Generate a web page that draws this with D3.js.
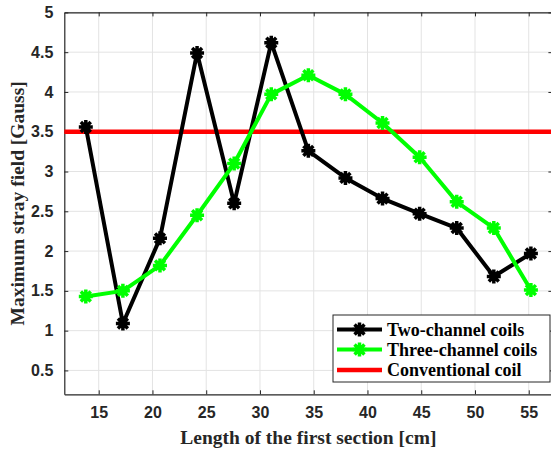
<!DOCTYPE html>
<html>
<head>
<meta charset="utf-8">
<script src="https://cdn.jsdelivr.net/npm/d3@7"></script>
<style>
  body { margin: 0; background: #fff; }
</style>
</head>
<body>
<script>
// data
var lengths = [13.8, 17.25, 20.7, 24.15, 27.6, 31.05, 34.5, 37.95, 41.4, 44.85, 48.3, 51.75, 55.2];
var twoChannel = [3.56, 1.09, 2.16, 4.49, 2.60, 4.62, 3.26, 2.92, 2.66, 2.47, 2.29, 1.68, 1.97];
var threeChannel = [1.43, 1.50, 1.82, 2.45, 3.10, 3.97, 4.21, 3.97, 3.61, 3.18, 2.62, 2.29, 1.51];
var conventional = 3.5;
var xTicks = [15, 20, 25, 30, 35, 40, 45, 50, 55];
var yTicks = [0.5, 1, 1.5, 2, 2.5, 3, 3.5, 4, 4.5, 5];
var legendNames = ["Two-channel coils", "Three-channel coils", "Conventional coil"];

var W = 551, H = 453;
var pLeft = 64.3, pRight = 552.4, pTop = 12.4, pBottom = 394.3;

var svg = d3.select("body").append("svg").attr("width", W).attr("height", H);

var x = d3.scaleLinear().domain([11.8, 57.2]).range([pLeft, pRight]);
var y = d3.scaleLinear().domain([0.2, 5]).range([pBottom, pTop]);

// grid
var grid = svg.append("g").attr("stroke", "#e3e3e3").attr("stroke-width", 1);
grid.selectAll("line.gx").data(xTicks).enter().append("line")
      .attr("x1", function (d) { return x(d); }).attr("x2", function (d) { return x(d); })
      .attr("y1", pTop).attr("y2", pBottom);
grid.selectAll("line.gy").data(yTicks).enter().append("line")
      .attr("x1", pLeft).attr("x2", pRight)
      .attr("y1", function (d) { return y(d); }).attr("y2", function (d) { return y(d); });

// axes (ticks point inward)
var fmt = function (d) { return String(d); };
var axB = svg.append("g").attr("transform", "translate(0," + pBottom + ")")
      .call(d3.axisBottom(x).tickValues(xTicks).tickSizeInner(-4).tickSizeOuter(0).tickPadding(12).tickFormat(fmt));
var axT = svg.append("g").attr("transform", "translate(0," + pTop + ")")
      .call(d3.axisTop(x).tickValues(xTicks).tickSizeInner(-4).tickSizeOuter(0).tickFormat(""));
var axL = svg.append("g").attr("transform", "translate(" + pLeft + ",0)")
      .call(d3.axisLeft(y).tickValues(yTicks).tickSizeInner(-4).tickSizeOuter(0).tickPadding(11).tickFormat(fmt));
var axR = svg.append("g").attr("transform", "translate(" + pRight + ",0)")
      .call(d3.axisRight(y).tickValues(yTicks).tickSizeInner(-4).tickSizeOuter(0).tickFormat(""));

[axB, axT, axL, axR].forEach(function (a) {
      a.select(".domain").attr("stroke", "#262626").attr("stroke-width", 1.2);
      a.selectAll(".tick line").attr("stroke", "#262626");
      a.selectAll("text")
            .attr("font-family", "Liberation Sans, Arial, sans-serif")
            .attr("font-weight", "bold")
            .attr("font-size", 16)
            .attr("fill", "#262626");
});

// reference line
svg.append("line")
      .attr("x1", pLeft).attr("x2", pRight)
      .attr("y1", y(conventional)).attr("y2", y(conventional))
      .attr("stroke", "#ff0000").attr("stroke-width", 4.5);

// asterisk marker path
function star(r) {
      var d = r * 0.7071;
      return "M" + (-r) + ",0L" + r + ",0M0," + (-r) + "L0," + r +
            "M" + (-d) + "," + (-d) + "L" + d + "," + d +
            "M" + (-d) + "," + d + "L" + d + "," + (-d);
}

var series = [
      { name: legendNames[0], values: twoChannel, color: "#000000" },
      { name: legendNames[1], values: threeChannel, color: "#00ff00" }
];

var line = d3.line()
      .x(function (d) { return x(d[0]); })
      .y(function (d) { return y(d[1]); });

series.forEach(function (s) {
      var pts = d3.zip(lengths, s.values);
      svg.append("path")
            .attr("fill", "none")
            .attr("stroke", s.color)
            .attr("stroke-width", 4)
            .attr("stroke-linejoin", "round")
            .attr("d", line(pts));
      svg.selectAll(null).data(pts).enter().append("path")
            .attr("transform", function (d) { return "translate(" + x(d[0]) + "," + y(d[1]) + ")"; })
            .attr("d", star(7))
            .attr("fill", "none")
            .attr("stroke", s.color)
            .attr("stroke-width", 3.5);
      svg.selectAll(null).data(pts).enter().append("circle")
            .attr("cx", function (d) { return x(d[0]); })
            .attr("cy", function (d) { return y(d[1]); })
            .attr("r", 4.5)
            .attr("fill", s.color);
});

// axis titles
svg.append("text")
      .attr("x", (pLeft + pRight) / 2).attr("y", 444)
      .attr("text-anchor", "middle")
      .attr("font-family", "Liberation Serif, Times New Roman, serif")
      .attr("font-weight", "bold").attr("font-size", 19.5)
      .attr("fill", "#262626")
      .text("Length of the first section [cm]");
svg.append("text")
      .attr("transform", "translate(23.5," + ((pTop + pBottom) / 2) + ") rotate(-90)")
      .attr("text-anchor", "middle")
      .attr("font-family", "Liberation Serif, Times New Roman, serif")
      .attr("font-weight", "bold").attr("font-size", 19.5)
      .attr("fill", "#262626")
      .text("Maximum stray field [Gauss]");

// legend
var lg = svg.append("g");
lg.append("rect")
      .attr("x", 333).attr("y", 315).attr("width", 217).attr("height", 67)
      .attr("fill", "#fff").attr("stroke", "#262626").attr("stroke-width", 1);
var legendItems = [
      { name: legendNames[0], color: "#000000", marker: true },
      { name: legendNames[1], color: "#00ff00", marker: true },
      { name: legendNames[2], color: "#ff0000", marker: false }
];
var rowY = [329.5, 349.5, 370];
legendItems.forEach(function (it, i) {
      var g = lg.append("g").attr("transform", "translate(0," + rowY[i] + ")");
      g.append("line").attr("x1", 337).attr("x2", 382).attr("y1", 0).attr("y2", 0)
            .attr("stroke", it.color).attr("stroke-width", it.marker ? 4 : 4.5);
      if (it.marker) {
            g.append("path").attr("transform", "translate(359.5,0)").attr("d", star(7))
                  .attr("fill", "none").attr("stroke", it.color).attr("stroke-width", 3.5);
            g.append("circle").attr("cx", 359.5).attr("cy", 0).attr("r", 4.5).attr("fill", it.color);
      }
      g.append("text").attr("x", 387).attr("y", 6)
            .attr("font-family", "Liberation Serif, Times New Roman, serif")
            .attr("font-weight", "bold").attr("font-size", 18)
            .attr("fill", "#000")
            .text(it.name);
});
</script>
</body>
</html>
